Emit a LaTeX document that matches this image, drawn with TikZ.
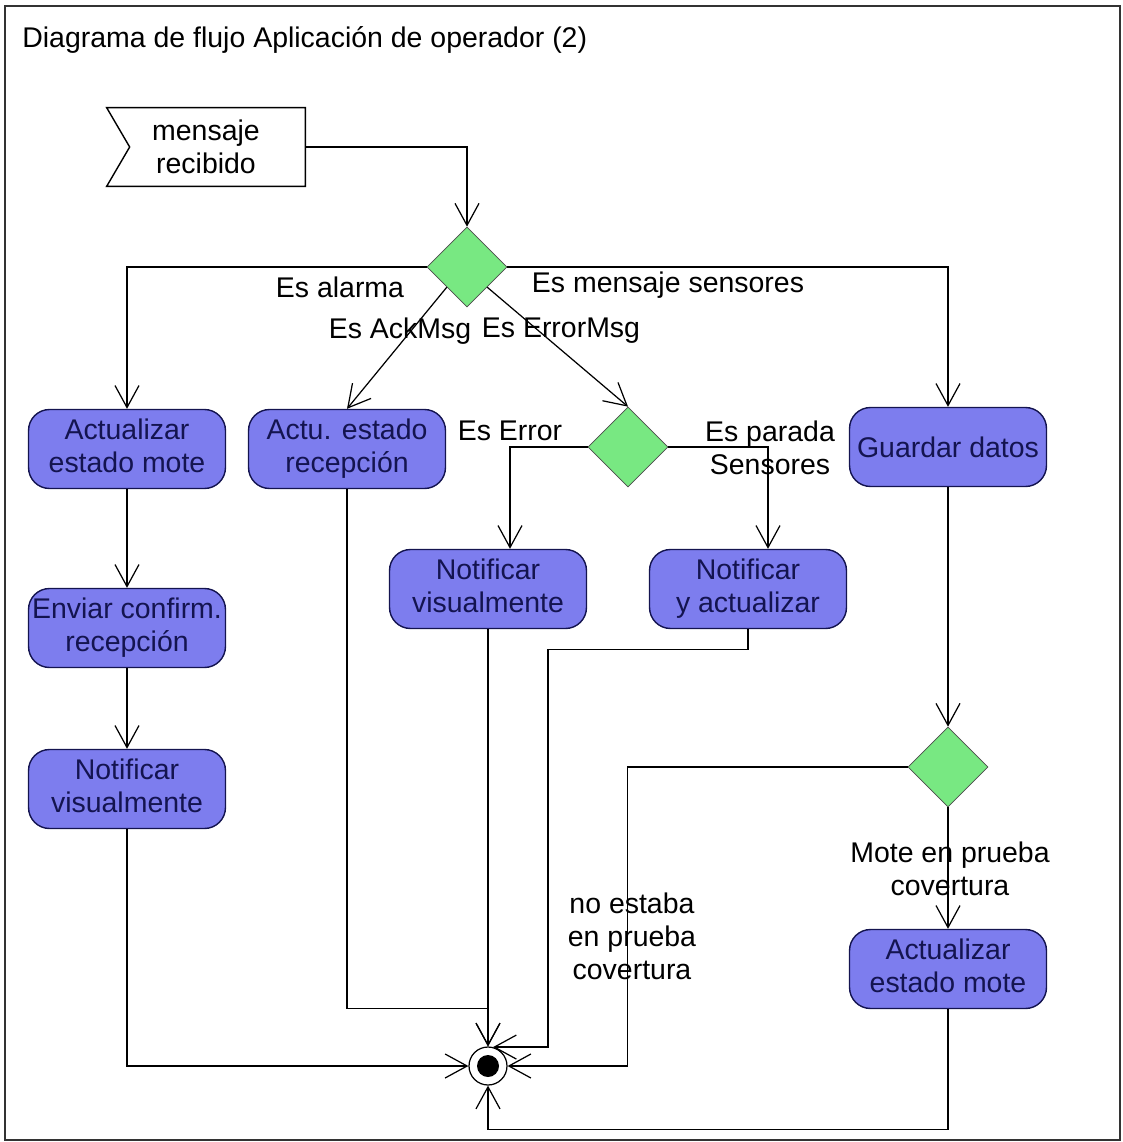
\documentclass[tikz,border=0pt]{standalone}
\usepackage{fontspec}
\setmainfont{Liberation Sans}
\usetikzlibrary{shapes.geometric,arrows.meta,calc}

\definecolor{actfill}{RGB}{125,125,238}
\definecolor{actline}{RGB}{20,20,80}
\definecolor{decfill}{RGB}{120,232,130}

\begin{document}
\begin{tikzpicture}[x=0.02cm, y=-0.02cm,
      font=\fontsize{16.2}{18.8}\selectfont,
      act/.style={draw=actline, fill=actfill, text=actline, rounded corners=0.42cm,
                  minimum width=3.94cm, minimum height=1.58cm, align=center,
                  inner sep=1pt, line width=0.8pt,
                  execute at begin node=\rule{0pt}{0.95em},
                  execute at end node=\rule[-0.22em]{0pt}{0.22em}},
      dec/.style={diamond, draw=black!70, fill=decfill, minimum width=1.6cm,
                  minimum height=1.6cm, inner sep=0pt, aspect=1},
      flow/.style={-{Straight Barb[length=0.44cm, width=0.48cm]}, line width=0.7pt},
      lbl/.style={align=center, inner sep=0pt}]
      \useasboundingbox (0,0) rectangle (1122,1142);
      \draw[line width=1pt, black!80] (5,6) rectangle (1120,1140);
      \node (title) [anchor=west, inner sep=0pt] at (22,40) {Diagrama de flujo Aplicación de operador (2)};

      % senal de entrada
      \node (msg) at (206,147) [minimum width=3.96cm, minimum height=1.56cm, align=center] {mensaje\\recibido};
      \draw[line width=0.8pt] (msg.north west) -- (msg.north east) -- (msg.south east)
            -- (msg.south west) -- ($(msg.west)+(23,0)$) -- cycle;

      % decisiones
      \node (d1) [dec] at (467,267) {};
      \node (d2) [dec] at (628,447) {};
      \node (d3) [dec] at (948,767) {};

      % actividades
      \node (b1) [act] at (127,449) {Actualizar\\estado mote};
      \node (b2) [act] at (347,449) {Actu. estado\\recepción};
      \node (b3) [act] at (948,447) {Guardar datos};
      \node (b4) [act] at (127,628) {Enviar confirm.\\recepción};
      \node (b5) [act] at (127,789) {Notificar\\visualmente};
      \node (b6) [act] at (488,589) {Notificar\\visualmente};
      \node (b7) [act] at (748,589) {Notificar\\y actualizar};
      \node (b8) [act] at (948,969) {Actualizar\\estado mote};

      % nodo final
      \node (fin) [circle, draw, line width=0.7pt, minimum size=0.76cm, inner sep=0pt,
                   path picture={\fill (path picture bounding box.center) circle (0.22cm);}] at (488,1066) {};

      % flujos
      \draw[flow] (msg.east) -| (d1.north);
      \draw[flow] (d1.west) -| (b1.north);
      \draw[flow] (d1.south west) -- (b2.north);
      \draw[flow] (d1.south east) -- (d2.north);
      \draw[flow] (d1.east) -| (b3.north);
      \draw[flow] (d2.west) -| ($(b6.north)+(22,0)$);
      \draw[flow] (d2.east) -| ($(b7.north)+(20,0)$);
      \draw[flow] (b1.south) -- (b4.north);
      \draw[flow] (b4.south) -- (b5.north);
      \draw[flow] (b3.south) -- (d3.north);
      \draw[flow] (d3.south) -- (b8.north);
      \draw[flow] (b5.south) |- (fin.west);
      \draw[flow] (b2.south) -- ++(0,519) -| (fin.north);
      \draw[flow] (b6.south) -- (fin.north);
      \draw[flow] (b7.south) -- ++(0,20) -- ++(-200,0) |- (fin.75);
      \draw[flow] (d3.west) -- ++(-280,0) |- (fin.east);
      \draw[flow] (b8.south) -- ++(0,120) -| (fin.south);

      % etiquetas
      \node (lalarma) [lbl] at (340,287) {Es alarma};
      \node (lack) [lbl] at (400,331) {Es AckMsg};
      \node (lerrmsg) [lbl] at (561,331) {Es ErrorMsg};
      \node (lsens) [lbl] at (668,285) {Es mensaje sensores};
      \node (lerror) [lbl] at (510,431) {Es Error};
      \node (lparada) [lbl] at (770,448) {Es parada\\Sensores};
      \node (lprueba) [lbl] at (950,869) {Mote en prueba\\covertura};
      \node (lnoprueba) [lbl] at (632,936) {no estaba\\en prueba\\covertura};
\end{tikzpicture}
\end{document}
